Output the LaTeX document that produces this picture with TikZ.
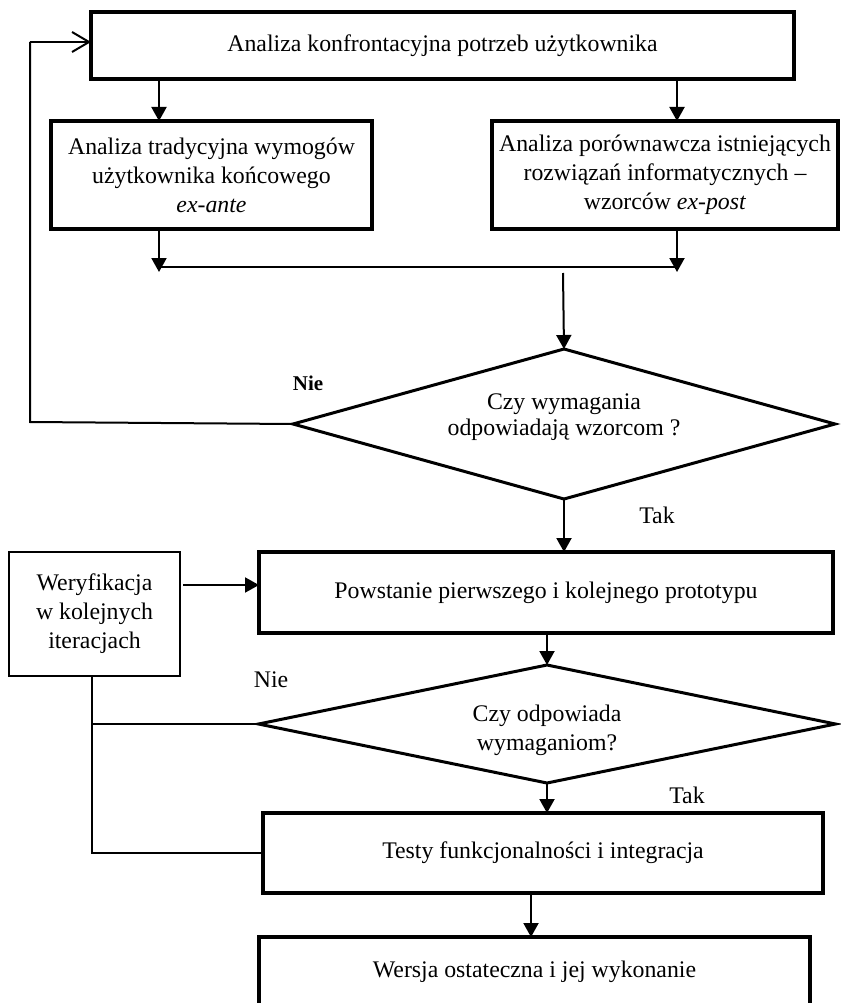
\documentclass[tikz,border=0pt]{standalone}
\usepackage{fontspec}
\setmainfont{Liberation Serif}
\usetikzlibrary{arrows.meta,shapes.geometric,calc}
\begin{document}
\begin{tikzpicture}[x=1pt,y=-1pt,
  every node/.style={font=\fontsize{23.8}{29}\selectfont},
  boxthick/.style={draw,line width=3.3pt,rectangle,inner sep=0pt,outer sep=0pt,align=center},
  boxthin/.style={draw,line width=2pt,rectangle,inner sep=0pt,outer sep=0pt,align=center},
  decision/.style={draw,line width=3pt,diamond,inner sep=0pt,outer sep=0pt},
  txt/.style={align=center,inner sep=0pt},
  conn/.style={line width=2pt},
  arr/.style={conn,-{Triangle[length=14pt,width=15pt]}},
  openarr/.style={conn,-{Straight Barb[length=17pt,width=20pt,line width=2pt]}}
]
\useasboundingbox (0,0) rectangle (840,1003);

% boxes
\node[boxthick,minimum width=703pt,minimum height=67pt] (top) at (442.5,45.5) {Analiza konfrontacyjna potrzeb użytkownika};
\node[boxthick,minimum width=321pt,minimum height=108pt] (left) at (211.5,175) {Analiza tradycyjna wymogów\\użytkownika końcowego\\\textit{ex-ante}};
\node[boxthick,minimum width=346pt,minimum height=108pt] (right) at (665,175) {Analiza porównawcza istniejących\\rozwiązań informatycznych –\\wzorców \textit{ex-post}};

\node[decision,minimum width=542pt,minimum height=150pt] (d1) at (564,424) {};
\node[txt,font=\fontsize{23.8}{26}\selectfont] (d1t) at (564,417) {Czy wymagania\\odpowiadają wzorcom ?};
\node[txt,font=\fontsize{21}{24}\selectfont\bfseries] (nie1) at (308,383) {Nie};
\node[txt] (tak1) at (657,515) {Tak};

\node[boxthick,minimum width=574pt,minimum height=81pt] (box2) at (546,592.5) {Powstanie pierwszego i kolejnego prototypu};
\node[boxthin,minimum width=171pt,minimum height=124pt] (verif) at (94.5,614) {Weryfikacja\\w kolejnych\\iteracjach};

\node[decision,minimum width=577pt,minimum height=118pt] (d2) at (547,724) {};
\node[txt] (d2t) at (547,730) {Czy odpowiada\\wymaganiom?};
\node[txt] (nie2) at (271,680) {Nie};
\node[txt] (tak2) at (687,795) {Tak};

\node[boxthick,minimum width=560pt,minimum height=80pt] (box3) at (543,853) {Testy funkcjonalności i integracja};
\node[boxthick,minimum width=551pt,minimum height=90pt] (box4) at (534.5,982) {};
\node[txt] (box4t) at (534.5,972) {Wersja ostateczna i jej wykonanie};

% helper coordinates
\coordinate (cl) at (159,267);
\coordinate (cr) at (677,267);
\coordinate (cm) at (563,273);
\coordinate (fb1) at (30,422);
\coordinate (fb2) at (30,42);
\coordinate (va) at (183,585);
\coordinate (vx) at (92,0);
\coordinate (bx) at (531,0);

% connectors
\draw[arr] (top.south -| cl) -- (left.north -| cl);
\draw[arr] (top.south -| cr) -- (right.north -| cr);
\draw[arr,shorten >=-5pt] (left.south -| cl) -- (cl);
\draw[arr,shorten >=-5pt] (right.south -| cr) -- (cr);
\draw[conn] (cl) -- (cr);
\draw[arr] (cm) -- (d1.north);
\draw[conn] (d1.west) -- (fb1) -- (fb2);
\draw[openarr] (fb2) -- (top.west |- fb2);
\draw[arr] (d1.south) -- (d1.south |- box2.north);
\draw[arr] (va) -- (box2.west |- va);
\draw[arr] (box2.south -| d2.north) -- (d2.north);
\draw[conn] (verif.south -| vx) -- (vx |- box3.west) -- (box3.west);
\draw[conn] (d2.west) -- (d2.west -| vx);
\draw[arr] (d2.south) -- (d2.south |- box3.north);
\draw[arr] (box3.south -| bx) -- (box4.north -| bx);
\end{tikzpicture}
\end{document}
